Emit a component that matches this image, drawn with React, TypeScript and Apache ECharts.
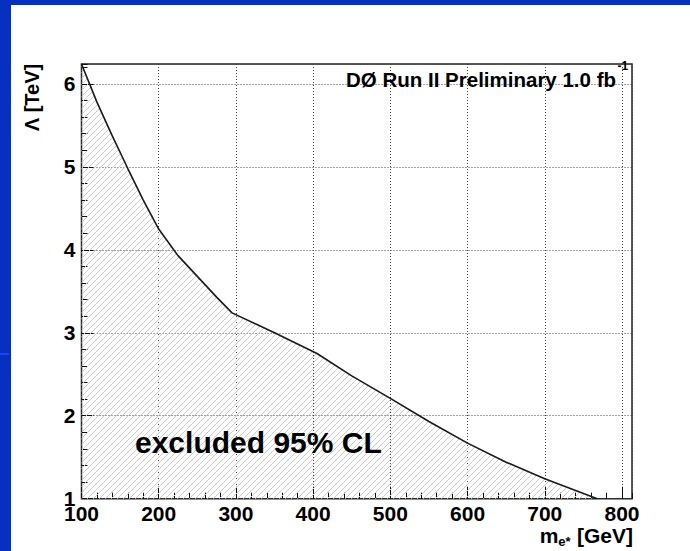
import React, { useEffect, useRef } from "react";
import * as echarts from "echarts";

// Limit curve: excited electron mass (GeV) vs compositeness scale Lambda (TeV)
const massGeV = [100, 120, 140, 160, 180, 200, 225, 250, 275, 295, 350, 405, 450, 500, 550, 600, 650, 700, 768];
const lambdaTeV = [6.24, 5.78, 5.37, 4.98, 4.6, 4.25, 3.93, 3.68, 3.43, 3.24, 3.0, 2.75, 2.48, 2.21, 1.93, 1.67, 1.44, 1.24, 1.0];

const xMin = 100;
const xMax = 813;
const yMin = 1;
const yMax = 6.24;
const xMajor = 100;
const xMinor = 20;
const yMajor = 1;
const yMinor = 0.2;

const headerText = "DØ Run II Preliminary 1.0 fb";
const headerSup = "-1";
const xTitleMain = "m";
const xTitleSub = "e*";
const xTitleRest = " [GeV]";
const yTitle = "Λ [TeV]";
const regionLabel = "excluded 95% CL";

const FONT = "'Liberation Sans', Arial, Helvetica, sans-serif";

function measure(text: string, size: number, weight = "bold") {
  const c = document.createElement("canvas");
  const ctx = c.getContext("2d")!;
  ctx.font = `${weight} ${size}px ${FONT}`;
  return ctx.measureText(text).width;
}

function makeHatch() {
  const s = 6;
  const c = document.createElement("canvas");
  c.width = s;
  c.height = s;
  const ctx = c.getContext("2d")!;
  ctx.strokeStyle = "#cbcbcb";
  ctx.lineWidth = 1;
  ctx.beginPath();
  ctx.moveTo(0, s);
  ctx.lineTo(s, 0);
  ctx.moveTo(-1, 1);
  ctx.lineTo(1, -1);
  ctx.moveTo(s - 1, s + 1);
  ctx.lineTo(s + 1, s - 1);
  ctx.stroke();
  return c;
}

export default function App() {
  const ref = useRef<HTMLDivElement>(null);

  useEffect(() => {
    const chart = echarts.init(ref.current!, null, { renderer: "svg" });
    const hatch = makeHatch();

    const gridLeft = 70.5;
    const gridTop = 59;
    const gridWidth = 550.5;
    const gridHeight = 434.7;

    const xTitleRight = 622;
    const wRest = measure(xTitleRest, 21);
    const wSub = measure(xTitleSub, 13);
    const subX = xTitleRight - wRest - wSub - 0.5;
    const mRight = subX;

    const headerRight = 605;

    const tickLabel = {
      color: "#000",
      fontFamily: FONT,
      fontWeight: "bold" as const,
      fontSize: 21,
    };

    const gridLine = {
      show: true,
      lineStyle: { color: "#444", width: 1, type: [1, 2] },
    };

    const option: any = {
      animation: false,
      backgroundColor: "#fff",
      grid: {
        left: gridLeft,
        top: gridTop,
        width: gridWidth,
        height: gridHeight,
        show: true,
        borderColor: "#222",
        borderWidth: 1.5,
      },
      xAxis: [
        {
          type: "value",
          position: "bottom",
          min: xMin,
          max: xMax,
          interval: xMajor,
          axisLine: { show: false },
          axisTick: { show: true, inside: true, length: 12, lineStyle: { color: "#111", width: 1 } },
          axisLabel: { ...tickLabel, margin: 4, showMaxLabel: false, showMinLabel: true },
          splitLine: gridLine,
        },
        {
          type: "value",
          position: "bottom",
          min: xMin,
          max: xMax,
          interval: xMinor,
          axisLine: { show: false },
          axisTick: { show: true, inside: true, length: 6, lineStyle: { color: "#111", width: 1 } },
          axisLabel: { show: false },
          splitLine: { show: false },
        },
      ],
      yAxis: [
        {
          type: "value",
          position: "left",
          min: yMin,
          max: yMax,
          interval: yMajor,
          axisLine: { show: false },
          axisTick: { show: true, inside: true, length: 12, lineStyle: { color: "#111", width: 1 } },
          axisLabel: { ...tickLabel, margin: 6, showMaxLabel: false, showMinLabel: true },
          splitLine: gridLine,
        },
        {
          type: "value",
          position: "left",
          min: yMin,
          max: yMax,
          interval: yMinor,
          axisLine: { show: false },
          axisTick: { show: true, inside: true, length: 6, lineStyle: { color: "#111", width: 1 } },
          axisLabel: { show: false },
          splitLine: { show: false },
        },
      ],
      series: [
        {
          type: "line",
          xAxisIndex: 0,
          yAxisIndex: 0,
          data: massGeV.map((m, i) => [m, lambdaTeV[i]]),
          symbol: "none",
          smooth: false,
          lineStyle: { color: "#1a1a1a", width: 1.6 },
          areaStyle: {
            origin: "start",
            opacity: 1,
            color: { image: hatch, repeat: "repeat", imageWidth: 6, imageHeight: 6 },
          },
          z: 3,
        },
      ],
      graphic: [
        {
          type: "text",
          z: 100,
          x: headerRight,
          y: 74.5,
          style: {
            text: headerText,
            fill: "#000",
            font: `bold 20.5px ${FONT}`,
            align: "right",
            verticalAlign: "middle",
          },
        },
        {
          type: "text",
          z: 100,
          x: headerRight + 1.5,
          y: 61,
          style: {
            text: headerSup,
            fill: "#000",
            font: `bold 12px ${FONT}`,
            align: "left",
            verticalAlign: "middle",
          },
        },
        {
          type: "text",
          z: 100,
          x: 21,
          y: 92.5,
          rotation: Math.PI / 2,
          style: {
            text: yTitle,
            fill: "#000",
            font: `bold 20px ${FONT}`,
            align: "center",
            verticalAlign: "middle",
          },
        },
        {
          type: "text",
          z: 100,
          x: xTitleRight,
          y: 530.6,
          style: {
            text: xTitleRest,
            fill: "#000",
            font: `bold 21px ${FONT}`,
            align: "right",
            verticalAlign: "middle",
          },
        },
        {
          type: "text",
          z: 100,
          x: subX,
          y: 536,
          style: {
            text: xTitleSub,
            fill: "#000",
            font: `bold 13px ${FONT}`,
            align: "left",
            verticalAlign: "middle",
          },
        },
        {
          type: "text",
          z: 100,
          x: mRight,
          y: 530.6,
          style: {
            text: xTitleMain,
            fill: "#000",
            font: `bold 21px ${FONT}`,
            align: "right",
            verticalAlign: "middle",
          },
        },
        {
          type: "text",
          z: 100,
          x: 124,
          y: 437.5,
          style: {
            text: regionLabel,
            fill: "#000",
            font: `bold 30px ${FONT}`,
            align: "left",
            verticalAlign: "middle",
          },
        },
      ],
    };

    chart.setOption(option);
    return () => chart.dispose();
  }, []);

  return (
    <div
      style={{
        position: "fixed",
        left: 0,
        top: 0,
        width: 690,
        height: 551,
        background: "#0530c0",
        overflow: "hidden",
      }}
    >
      <div style={{ position: "absolute", left: 0, top: 353, width: 9, height: 2, background: "#1a44ff" }} />
      <div
        ref={ref}
        style={{ position: "absolute", left: 11, top: 5, width: 679, height: 546, background: "#fff" }}
      />
    </div>
  );
}
